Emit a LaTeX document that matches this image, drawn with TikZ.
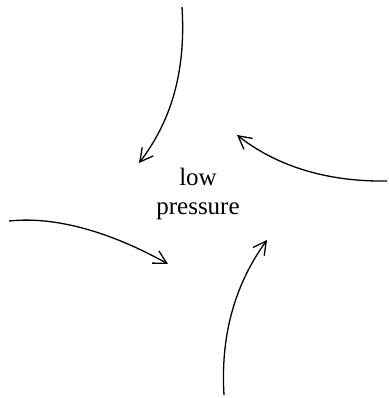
\documentclass[tikz,border=0pt]{standalone}
\usepackage{fontspec}
\setmainfont{Liberation Serif}
\usetikzlibrary{arrows.meta}
\begin{document}
\begin{tikzpicture}[x=1pt,y=-1pt,
  flow/.style={line width=1.3pt,-{Straight Barb[length=13pt,width=14pt,line width=1.3pt]}},
  lbl/.style={align=center,font=\fontsize{25}{29}\selectfont,inner sep=0pt}]
\useasboundingbox (0,0) rectangle (388,398);
\coordinate (ts) at (182,7);
\coordinate (te) at (139,163);
\coordinate (rs) at (387,181);
\coordinate (re) at (237,135);
\coordinate (ls) at (9,221);
\coordinate (le) at (168,264);
\coordinate (bs) at (224,395);
\coordinate (be) at (267,240);
\node[lbl] (lp) at (198,194) {low\\pressure};
\draw[flow] (ts) .. controls (186,70) and (172,120) .. (te);
\draw[flow] (rs) .. controls (325,182) and (275,165) .. (re);
\draw[flow] (ls) .. controls (65,215) and (125,240) .. (le);
\draw[flow] (bs) .. controls (220,330) and (238,280) .. (be);
\end{tikzpicture}
\end{document}
